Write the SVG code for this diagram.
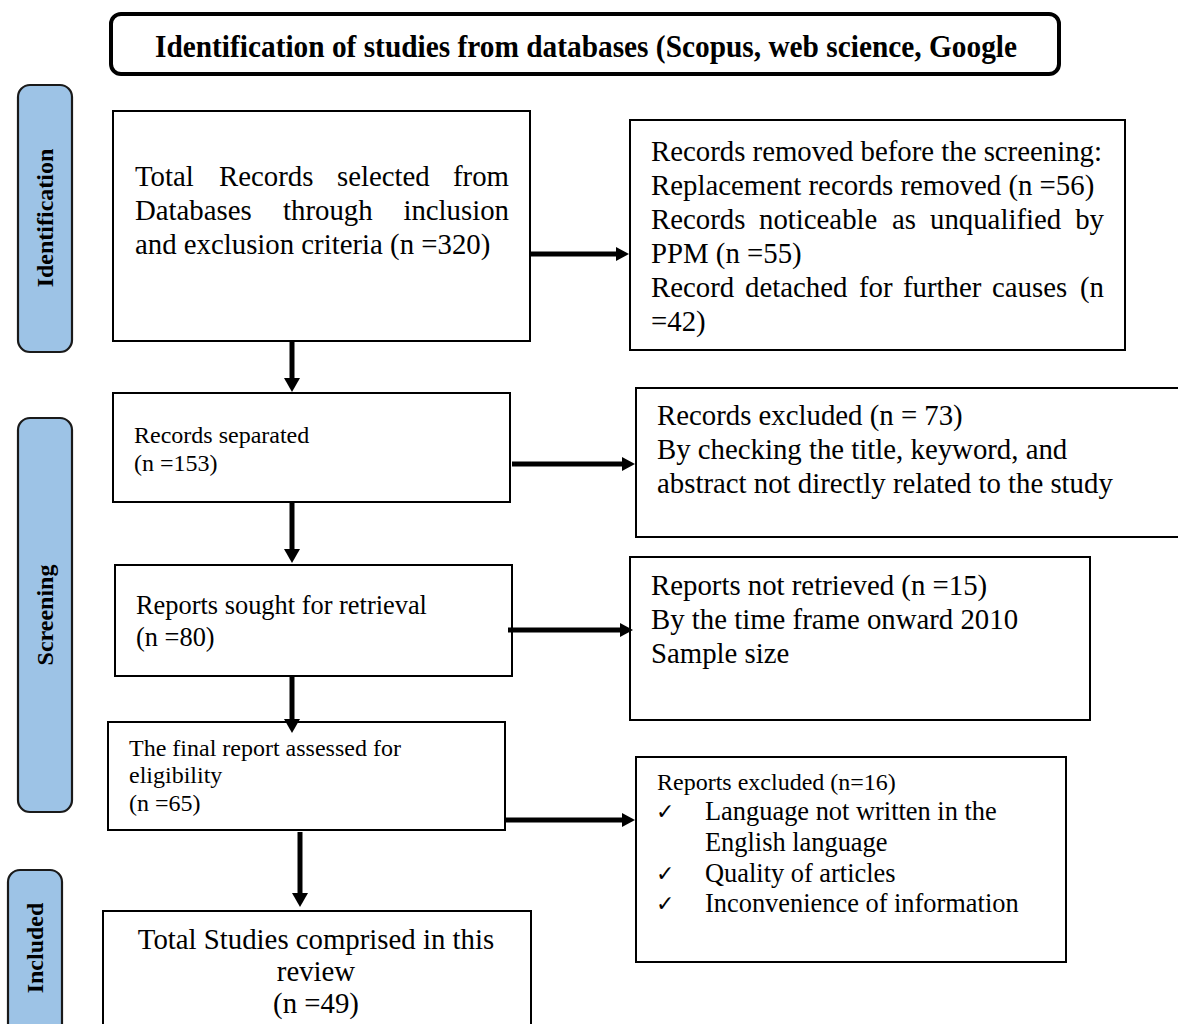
<svg xmlns="http://www.w3.org/2000/svg" width="1178" height="1024" viewBox="0 0 1178 1024">
<defs>
<style>
.box{fill:#fff;stroke:#000;stroke-width:2}
.side{fill:#9dc3e6;stroke:#1a1a1a;stroke-width:2.2}
.t{font-family:"Liberation Serif","Times New Roman",serif;fill:#000}
.f29{font-size:28.8px}
.f26{font-size:26.4px}
.f24{font-size:24px}
.sl{font-family:"Liberation Serif","Times New Roman",serif;font-weight:bold;font-size:24px;fill:#000}
.ck{font-family:"DejaVu Sans",sans-serif;font-size:22px;fill:#000}
.conn{stroke:#000;stroke-width:5;fill:none}
</style>
<marker id="hd" markerUnits="userSpaceOnUse" markerWidth="16" markerHeight="16" refX="4" refY="8" orient="auto" viewBox="0 0 16 16">
<path d="M0,0 L14,8 L0,16 z" fill="#000"/>
</marker>
<marker id="hr" markerUnits="userSpaceOnUse" markerWidth="14" markerHeight="14" refX="4" refY="7" orient="auto" viewBox="0 0 14 14">
<path d="M0,0 L13,7 L0,14 z" fill="#000"/>
</marker>
</defs>
<rect width="1178" height="1024" fill="#fff"/>

<g id="title">
<rect x="111" y="14" width="948" height="60" rx="10" ry="10" fill="#fff" stroke="#000" stroke-width="4"/>
<text x="586" y="57" text-anchor="middle" font-family="Liberation Serif, serif" font-weight="bold" font-size="31" textLength="862" lengthAdjust="spacingAndGlyphs">Identification of studies from databases (Scopus, web science, Google</text>
</g>

<g id="stage-identification">
<rect class="side" x="18" y="85" width="54" height="267" rx="12" ry="12"/>
<text class="sl" transform="translate(53,218) rotate(-90)" text-anchor="middle">Identification</text>
</g>
<g id="stage-screening">
<rect class="side" x="18" y="418" width="54" height="394" rx="12" ry="12"/>
<text class="sl" transform="translate(53,615) rotate(-90)" text-anchor="middle">Screening</text>
</g>
<g id="stage-included">
<rect class="side" x="8" y="870" width="54" height="170" rx="12" ry="12"/>
<text class="sl" transform="translate(43,948) rotate(-90)" text-anchor="middle">Included</text>
</g>

<g id="n-total-records">
<rect class="box" x="113" y="111" width="417" height="230"/>
<text class="t f29" y="186"><tspan x="135">Total</tspan><tspan x="219">Records</tspan><tspan x="337">selected</tspan></text>
<text class="t f29" x="509" y="186" text-anchor="end">from</text>
<text class="t f29" y="220"><tspan x="135">Databases</tspan><tspan x="283">through</tspan></text>
<text class="t f29" x="509" y="220" text-anchor="end">inclusion</text>
<text class="t f29" x="135" y="254">and exclusion criteria (n =320)</text>
</g>

<g id="n-removed">
<rect class="box" x="630" y="120" width="495" height="230"/>
<text class="t f29" x="651" y="161">Records removed before the screening:</text>
<text class="t f29" x="651" y="195">Replacement records removed (n =56)</text>
<text class="t f29" y="229"><tspan x="651">Records</tspan><tspan x="759">noticeable</tspan><tspan x="892">as</tspan><tspan x="930">unqualified</tspan></text>
<text class="t f29" x="1104" y="229" text-anchor="end">by</text>
<text class="t f29" x="651" y="263">PPM (n =55)</text>
<text class="t f29" y="297"><tspan x="651">Record</tspan><tspan x="745">detached</tspan><tspan x="859">for</tspan><tspan x="903">further</tspan><tspan x="992">causes</tspan></text>
<text class="t f29" x="1104" y="297" text-anchor="end">(n</text>
<text class="t f29" x="651" y="331">=42)</text>
</g>

<g id="n-separated">
<rect class="box" x="113" y="393" width="397" height="109"/>
<text class="t f24" x="134" y="443">Records separated</text>
<text class="t f24" x="134" y="471">(n =153)</text>
</g>

<g id="n-excluded">
<rect class="box" x="636" y="388" width="546" height="149"/>
<text class="t f29" x="657" y="425">Records excluded (n = 73)</text>
<text class="t f29" x="657" y="459">By checking the title, keyword, and</text>
<text class="t f29" x="657" y="493">abstract not directly related to the study</text>
</g>

<g id="n-sought">
<rect class="box" x="115" y="565" width="397" height="111"/>
<text class="t f26" x="136" y="614">Reports sought for retrieval</text>
<text class="t f26" x="136" y="646">(n =80)</text>
</g>

<g id="n-not-retrieved">
<rect class="box" x="630" y="557" width="460" height="163"/>
<text class="t f29" x="651" y="595">Reports not retrieved (n =15)</text>
<text class="t f29" x="651" y="629">By the time frame onward 2010</text>
<text class="t f29" x="651" y="663">Sample size</text>
</g>

<g id="n-assessed">
<rect class="box" x="108" y="722" width="397" height="108"/>
<text class="t f24" x="129" y="756">The final report assessed for</text>
<text class="t f24" x="129" y="783">eligibility</text>
<text class="t f24" x="129" y="811">(n =65)</text>
</g>

<g id="n-reports-excluded">
<rect class="box" x="636" y="757" width="430" height="205"/>
<text class="t f24" x="657" y="790">Reports excluded (n=16)</text>
<text class="ck" x="656" y="819">✓</text>
<text class="t f26" x="705" y="820">Language not written in the</text>
<text class="t f26" x="705" y="851">English language</text>
<text class="ck" x="656" y="881">✓</text>
<text class="t f26" x="705" y="882">Quality of articles</text>
<text class="ck" x="656" y="911">✓</text>
<text class="t f26" x="705" y="912">Inconvenience of information</text>
</g>

<g id="n-included">
<rect class="box" x="103" y="911" width="428" height="130"/>
<text class="t f29" x="316" y="949" text-anchor="middle">Total Studies comprised in this</text>
<text class="t f29" x="316" y="981" text-anchor="middle">review</text>
<text class="t f29" x="316" y="1013" text-anchor="middle">(n =49)</text>
</g>

<g id="connectors">
<line class="conn" x1="292" y1="341" x2="292" y2="382" marker-end="url(#hd)"/>
<line class="conn" x1="531" y1="254" x2="620" y2="254" marker-end="url(#hr)"/>
<line class="conn" x1="292" y1="502" x2="292" y2="553" marker-end="url(#hd)"/>
<line class="conn" x1="512" y1="464" x2="626" y2="464" marker-end="url(#hr)"/>
<line class="conn" x1="508" y1="630" x2="624" y2="630" marker-end="url(#hr)"/>
<line class="conn" x1="292" y1="676" x2="292" y2="723" marker-end="url(#hd)"/>
<line class="conn" x1="506" y1="820" x2="626" y2="820" marker-end="url(#hr)"/>
<line class="conn" x1="300" y1="832" x2="300" y2="897" marker-end="url(#hd)"/>
</g>
</svg>
